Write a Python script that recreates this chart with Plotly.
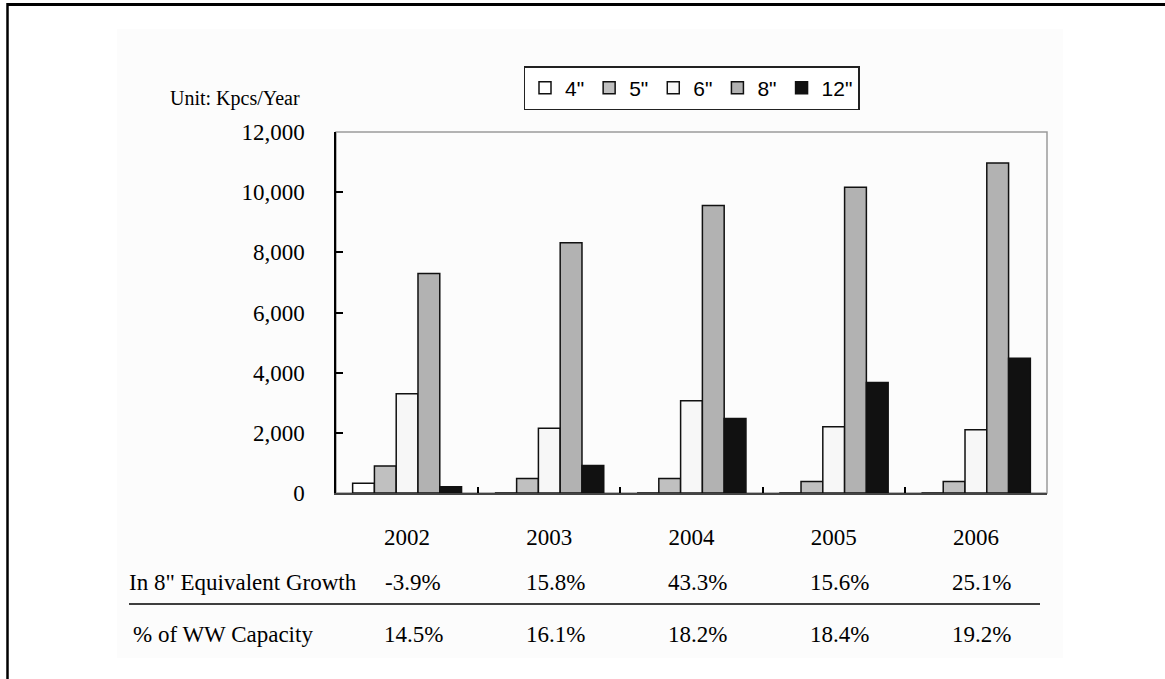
import plotly.graph_objects as go

years = ["2002", "2003", "2004", "2005", "2006"]
series_names = ['4"', '5"', '6"', '8"', '12"']
v4 = [320, 0, 0, 0, 0]
v5 = [900, 480, 480, 380, 380]
v6 = [3300, 2150, 3070, 2200, 2100]
v8 = [7300, 8320, 9560, 10160, 10970]
v12 = [210, 910, 2480, 3670, 4480]
series_values = [v4, v5, v6, v8, v12]
colors = ["#ffffff", "#c0c0c0", "#f7f7f7", "#b2b2b2", "#111111"]

growth = ["-3.9%", "15.8%", "43.3%", "15.6%", "25.1%"]
ww_capacity = ["14.5%", "16.1%", "18.2%", "18.4%", "19.2%"]
y_ticks = [0, 2000, 4000, 6000, 8000, 10000, 12000]

SERIF = "Liberation Serif, Times New Roman, serif"
SANS = "Liberation Sans, Arial, sans-serif"

fig = go.Figure()
for name, vals, col in zip(series_names, series_values, colors):
    fig.add_trace(go.Bar(
        x=years, y=vals, name=name,
        marker=dict(color=col, line=dict(color="#111111", width=1.5)),
    ))

W, H = 1165, 679
L, R, T, B = 336, 118, 132, 186
pw, ph = W - L - R, H - T - B

def px_x(px):
    return (px - L) / pw

def px_y(py):
    return (H - B - py) / ph

fig.update_layout(
    width=W, height=H,
    margin=dict(l=L, r=R, t=T, b=B, pad=0),
    paper_bgcolor="white", plot_bgcolor="white",
    barmode="group", bargap=0.234, bargroupgap=0,
    showlegend=True,
    legend=dict(
        orientation="h", x=0.5, xanchor="center", y=px_y(88), yanchor="middle",
        font=dict(family=SANS, size=21, color="black"),
        bordercolor="#222222", borderwidth=1.5, bgcolor="white",
        itemwidth=30, traceorder="normal",
    ),
    font=dict(family=SERIF, color="black"),
)

fig.update_yaxes(
    range=[0, 12000], tickvals=y_ticks, tickformat=",d",
    ticks="inside", ticklen=7, tickwidth=1.5, tickcolor="black",
    showline=True, linecolor="black", linewidth=1.5,
    showgrid=False, zeroline=False,
    tickfont=dict(family=SERIF, size=23, color="black"),
    ticklabelstandoff=25,
)
fig.update_xaxes(
    type="category", categoryorder="array", categoryarray=years,
    range=[-0.5, len(years) - 0.5], autorange=False,
    tickson="boundaries",
    ticks="inside", ticklen=6, tickwidth=1.5, tickcolor="black",
    showline=True, linecolor="#444444", linewidth=1.5,
    showgrid=False,
    tickfont=dict(family=SERIF, size=23, color="black"),
    ticklabelstandoff=23, tickangle=0,
)

shapes = []
shapes.append(dict(type="rect", xref="paper", yref="paper",
                   x0=px_x(117), x1=px_x(1063), y0=px_y(658), y1=px_y(29),
                   fillcolor="#fcfcfc", line=dict(width=0), layer="below"))
shapes.append(dict(type="rect", xref="paper", yref="paper",
                   x0=0, x1=1, y0=0, y1=1,
                   line=dict(color="#9a9a9a", width=1.5), layer="below"))
shapes.append(dict(type="line", xref="paper", yref="paper",
                   x0=px_x(7), x1=px_x(1166), y0=px_y(4.5), y1=px_y(4.5),
                   line=dict(color="black", width=3)))
shapes.append(dict(type="line", xref="paper", yref="paper",
                   x0=px_x(7.5), x1=px_x(7.5), y0=px_y(3), y1=px_y(680),
                   line=dict(color="black", width=2.5)))
shapes.append(dict(type="line", xref="paper", yref="paper",
                   x0=px_x(129), x1=px_x(1040), y0=px_y(604), y1=px_y(604),
                   line=dict(color="black", width=1.5)))
fig.update_layout(shapes=shapes)

ann = []
ann.append(dict(text="Unit: Kpcs/Year", xref="paper", yref="paper",
                x=px_x(302), y=px_y(98), xanchor="right", yanchor="middle",
                showarrow=False, font=dict(family=SERIF, size=20, color="black")))
ann.append(dict(text='In 8" Equivalent Growth', xref="paper", yref="paper",
                x=px_x(127), y=px_y(582), xanchor="left", yanchor="middle",
                showarrow=False, font=dict(family=SERIF, size=23, color="black")))
ann.append(dict(text="% of WW Capacity", xref="paper", yref="paper",
                x=px_x(131), y=px_y(634), xanchor="left", yanchor="middle",
                showarrow=False, font=dict(family=SERIF, size=23, color="black")))
for i, (g, c) in enumerate(zip(growth, ww_capacity)):
    ann.append(dict(text=g, xref="x", yref="paper", x=i, y=px_y(582),
                    xanchor="center", yanchor="middle", xshift=6,
                    showarrow=False, font=dict(family=SERIF, size=23, color="black")))
    ann.append(dict(text=c, xref="x", yref="paper", x=i, y=px_y(634),
                    xanchor="center", yanchor="middle", xshift=6,
                    showarrow=False, font=dict(family=SERIF, size=23, color="black")))
fig.update_layout(annotations=ann)

fig.write_html(
    "out.html",
    config={"displayModeBar": False},
    post_script="document.body.style.margin='0';document.body.style.overflow='hidden';",
)
